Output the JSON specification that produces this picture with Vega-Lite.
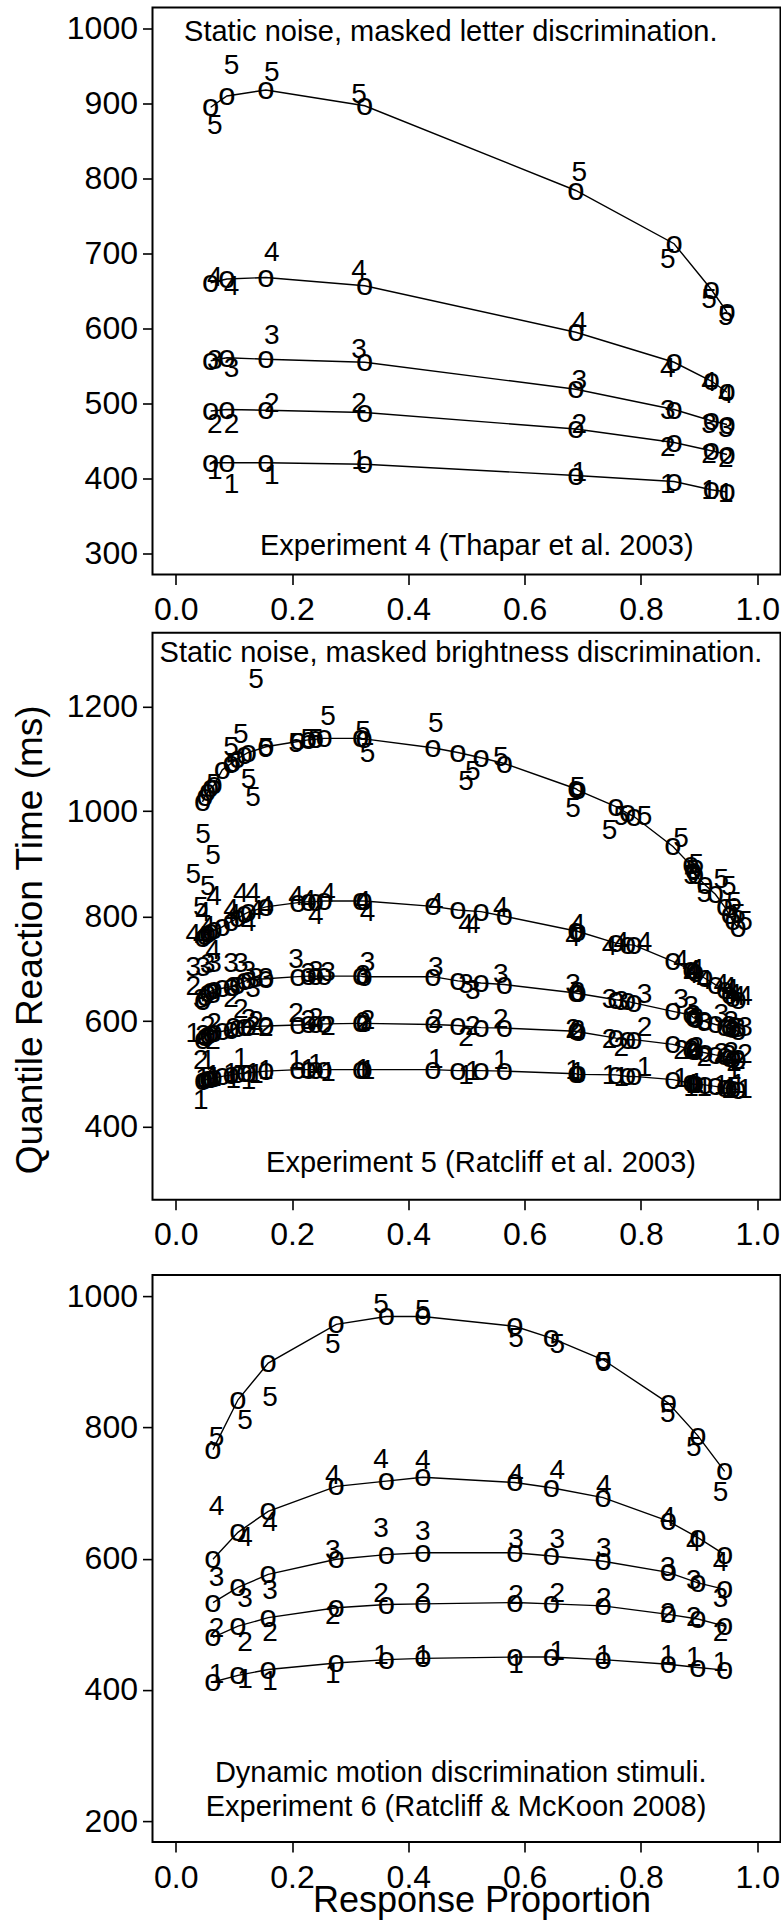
{
  "$schema": "https://vega.github.io/schema/vega-lite/v6.json",
  "padding": {"left": 9.5, "top": 6.5, "right": 0, "bottom": 0},
  "spacing": 5.3,
  "config": {
    "view": {"stroke": "black", "strokeWidth": 2},
    "font": "Liberation Sans",
    "axis": {"domain": false, "grid": false, "tickColor": "black", "tickSize": 10, "tickWidth": 1.6, "labelFont": "Liberation Sans", "labelFontSize": 32, "labelColor": "black", "titleFont": "Liberation Sans", "titleFontSize": 37, "titleFontWeight": "normal", "titleColor": "black", "labelFlush": false, "labelOverlap": false, "labelBound": false},
    "axisX": {"labelPadding": 10},
    "axisY": {"labelPadding": 5},
    "text": {"font": "Liberation Sans", "color": "black"}
  },
  "datasets": {
    "p1pred": [
      {"x": 0.060, "1": 421, "2": 490, "3": 557, "4": 661, "5": 895},
      {"x": 0.088, "1": 421, "2": 492, "3": 561, "4": 666, "5": 910},
      {"x": 0.155, "1": 421, "2": 491, "3": 559, "4": 668, "5": 918},
      {"x": 0.325, "1": 419, "2": 488, "3": 555, "4": 657, "5": 897},
      {"x": 0.688, "1": 404, "2": 466, "3": 519, "4": 595, "5": 784},
      {"x": 0.857, "1": 396, "2": 448, "3": 492, "4": 555, "5": 713},
      {"x": 0.921, "1": 385, "2": 437, "3": 477, "4": 530, "5": 652},
      {"x": 0.948, "1": 382, "2": 432, "3": 472, "4": 515, "5": 622}
    ],
    "p1obs": [
      {"x": 0.067, "1": 410, "2": 472, "3": 557, "4": 668, "5": 870},
      {"x": 0.096, "1": 391, "2": 472, "3": 546, "4": 655, "5": 950},
      {"x": 0.165, "1": 404, "2": 499, "3": 590, "4": 701, "5": 941},
      {"x": 0.315, "1": 423, "2": 499, "3": 572, "4": 677, "5": 912},
      {"x": 0.694, "1": 407, "2": 472, "3": 530, "4": 608, "5": 808},
      {"x": 0.846, "1": 391, "2": 441, "3": 490, "4": 546, "5": 692},
      {"x": 0.917, "1": 383, "2": 432, "3": 472, "4": 528, "5": 638},
      {"x": 0.946, "1": 379, "2": 426, "3": 466, "4": 512, "5": 615}
    ],
    "p2pred": [
      {"x": 0.046, "1": 486, "2": 565, "3": 638, "4": 758, "5": 1018},
      {"x": 0.050, "1": 488, "2": 571, "3": 647, "4": 763, "5": 1028},
      {"x": 0.055, "1": 490, "2": 574, "3": 653, "4": 767, "5": 1036},
      {"x": 0.060, "1": 491, "2": 576, "3": 657, "4": 770, "5": 1044},
      {"x": 0.066, "1": 492, "2": 578, "3": 660, "4": 773, "5": 1050},
      {"x": 0.080, "1": 495, "2": 581, "3": 663, "4": 780, "5": 1079},
      {"x": 0.095, "1": 498, "2": 584, "3": 666, "4": 790, "5": 1091},
      {"x": 0.106, "1": 500, "2": 587, "3": 670, "4": 796, "5": 1100},
      {"x": 0.118, "1": 501, "2": 590, "3": 676, "4": 804, "5": 1108},
      {"x": 0.125, "1": 502, "2": 590, "3": 679, "4": 808, "5": 1112},
      {"x": 0.155, "1": 505, "2": 591, "3": 681, "4": 818, "5": 1123},
      {"x": 0.210, "1": 508, "2": 593, "3": 685, "4": 826, "5": 1133},
      {"x": 0.228, "1": 508, "2": 594, "3": 686, "4": 828, "5": 1136},
      {"x": 0.240, "1": 508, "2": 594, "3": 686, "4": 828, "5": 1137},
      {"x": 0.255, "1": 508, "2": 595, "3": 686, "4": 829, "5": 1139},
      {"x": 0.318, "1": 508, "2": 596, "3": 686, "4": 829, "5": 1139},
      {"x": 0.324, "1": 508, "2": 596, "3": 685, "4": 829, "5": 1138},
      {"x": 0.442, "1": 508, "2": 594, "3": 685, "4": 819, "5": 1121},
      {"x": 0.485, "1": 506, "2": 592, "3": 677, "4": 812, "5": 1112},
      {"x": 0.525, "1": 506, "2": 588, "3": 673, "4": 809, "5": 1102},
      {"x": 0.565, "1": 505, "2": 587, "3": 670, "4": 800, "5": 1091},
      {"x": 0.688, "1": 500, "2": 581, "3": 654, "4": 772, "5": 1043},
      {"x": 0.692, "1": 499, "2": 580, "3": 653, "4": 771, "5": 1040},
      {"x": 0.757, "1": 498, "2": 568, "3": 641, "4": 749, "5": 1009},
      {"x": 0.777, "1": 495, "2": 565, "3": 638, "4": 746, "5": 996},
      {"x": 0.788, "1": 495, "2": 565, "3": 635, "4": 745, "5": 990},
      {"x": 0.855, "1": 489, "2": 556, "3": 619, "4": 714, "5": 933},
      {"x": 0.886, "1": 482, "2": 546, "3": 612, "4": 698, "5": 897},
      {"x": 0.890, "1": 480, "2": 544, "3": 607, "4": 695, "5": 887},
      {"x": 0.894, "1": 480, "2": 543, "3": 605, "4": 692, "5": 878},
      {"x": 0.910, "1": 479, "2": 540, "3": 600, "4": 682, "5": 860},
      {"x": 0.928, "1": 476, "2": 536, "3": 594, "4": 670, "5": 842},
      {"x": 0.944, "1": 473, "2": 533, "3": 590, "4": 660, "5": 818},
      {"x": 0.952, "1": 472, "2": 531, "3": 588, "4": 651, "5": 803},
      {"x": 0.958, "1": 471, "2": 529, "3": 585, "4": 645, "5": 791},
      {"x": 0.967, "1": 470, "2": 527, "3": 581, "4": 641, "5": 778}
    ],
    "p2obs": [
      {"x": 0.030, "1": 575, "2": 666, "3": 701, "4": 764, "5": 879},
      {"x": 0.043, "1": 449, "2": 524, "3": 640, "4": 760, "5": 816},
      {"x": 0.047, "1": 490, "2": 572, "3": 701, "4": 806, "5": 954},
      {"x": 0.055, "1": 524, "2": 590, "3": 708, "4": 780, "5": 855},
      {"x": 0.064, "1": 495, "2": 563, "3": 650, "4": 733, "5": 914},
      {"x": 0.066, "1": 492, "2": 595, "3": 710, "4": 836, "5": 1050},
      {"x": 0.095, "1": 500, "2": 642, "3": 709, "4": 812, "5": 1120},
      {"x": 0.099, "1": 488, "2": 586, "3": 664, "4": 803, "5": 1090},
      {"x": 0.112, "1": 528, "2": 622, "3": 709, "4": 843, "5": 1145},
      {"x": 0.125, "1": 486, "2": 603, "3": 693, "4": 788, "5": 1060},
      {"x": 0.133, "1": 500, "2": 590, "3": 662, "4": 843, "5": 1025},
      {"x": 0.138, "1": 497, "2": 598, "3": 680, "4": 810, "5": 1250},
      {"x": 0.155, "1": 505, "2": 588, "3": 680, "4": 818, "5": 1118},
      {"x": 0.207, "1": 524, "2": 614, "3": 716, "4": 836, "5": 1128},
      {"x": 0.228, "1": 507, "2": 600, "3": 690, "4": 830, "5": 1135},
      {"x": 0.241, "1": 516, "2": 604, "3": 694, "4": 800, "5": 1135},
      {"x": 0.262, "1": 501, "2": 590, "3": 692, "4": 843, "5": 1180},
      {"x": 0.322, "1": 508, "2": 597, "3": 686, "4": 828, "5": 1151},
      {"x": 0.330, "1": 505, "2": 600, "3": 711, "4": 806, "5": 1110},
      {"x": 0.447, "1": 527, "2": 603, "3": 701, "4": 823, "5": 1167},
      {"x": 0.499, "1": 495, "2": 568, "3": 669, "4": 784, "5": 1056},
      {"x": 0.511, "1": 503, "2": 590, "3": 657, "4": 784, "5": 1075},
      {"x": 0.559, "1": 524, "2": 603, "3": 688, "4": 815, "5": 1101},
      {"x": 0.683, "1": 505, "2": 584, "3": 669, "4": 758, "5": 1005},
      {"x": 0.691, "1": 502, "2": 581, "3": 654, "4": 784, "5": 1044},
      {"x": 0.746, "1": 495, "2": 565, "3": 641, "4": 742, "5": 962},
      {"x": 0.766, "1": 492, "2": 549, "3": 636, "4": 749, "5": 990},
      {"x": 0.806, "1": 511, "2": 587, "3": 651, "4": 749, "5": 990},
      {"x": 0.869, "1": 490, "2": 543, "3": 641, "4": 714, "5": 948},
      {"x": 0.886, "1": 473, "2": 543, "3": 628, "4": 689, "5": 876},
      {"x": 0.890, "1": 478, "2": 548, "3": 610, "4": 695, "5": 886},
      {"x": 0.895, "1": 480, "2": 550, "3": 605, "4": 698, "5": 898},
      {"x": 0.909, "1": 473, "2": 530, "3": 596, "4": 676, "5": 842},
      {"x": 0.938, "1": 476, "2": 538, "3": 612, "4": 669, "5": 869},
      {"x": 0.951, "1": 470, "2": 533, "3": 590, "4": 663, "5": 855},
      {"x": 0.955, "1": 472, "2": 540, "3": 598, "4": 660, "5": 812},
      {"x": 0.960, "1": 505, "2": 520, "3": 587, "4": 650, "5": 826},
      {"x": 0.967, "1": 479, "2": 525, "3": 585, "4": 647, "5": 803},
      {"x": 0.979, "1": 470, "2": 535, "3": 587, "4": 647, "5": 790}
    ],
    "p3pred": [
      {"x": 0.064, "1": 412, "2": 480, "3": 533, "4": 599, "5": 766},
      {"x": 0.107, "1": 422, "2": 497, "3": 556, "4": 640, "5": 842},
      {"x": 0.159, "1": 431, "2": 510, "3": 576, "4": 672, "5": 898},
      {"x": 0.276, "1": 441, "2": 525, "3": 599, "4": 710, "5": 957},
      {"x": 0.362, "1": 446, "2": 530, "3": 606, "4": 718, "5": 969},
      {"x": 0.425, "1": 448, "2": 531, "3": 609, "4": 724, "5": 969},
      {"x": 0.583, "1": 450, "2": 533, "3": 609, "4": 716, "5": 954},
      {"x": 0.646, "1": 450, "2": 531, "3": 604, "4": 708, "5": 936},
      {"x": 0.735, "1": 446, "2": 528, "3": 596, "4": 693, "5": 903},
      {"x": 0.847, "1": 439, "2": 515, "3": 579, "4": 657, "5": 837},
      {"x": 0.898, "1": 434, "2": 508, "3": 563, "4": 632, "5": 787},
      {"x": 0.944, "1": 430, "2": 497, "3": 553, "4": 606, "5": 733}
    ],
    "p3obs": [
      {"x": 0.070, "1": 422, "2": 492, "3": 571, "4": 678, "5": 784},
      {"x": 0.119, "1": 415, "2": 472, "3": 538, "4": 632, "5": 809},
      {"x": 0.162, "1": 412, "2": 487, "3": 551, "4": 655, "5": 845},
      {"x": 0.270, "1": 422, "2": 513, "3": 612, "4": 726, "5": 926},
      {"x": 0.353, "1": 451, "2": 546, "3": 645, "4": 751, "5": 987},
      {"x": 0.425, "1": 451, "2": 546, "3": 640, "4": 749, "5": 977},
      {"x": 0.585, "1": 438, "2": 543, "3": 629, "4": 728, "5": 934},
      {"x": 0.656, "1": 457, "2": 546, "3": 629, "4": 733, "5": 926},
      {"x": 0.736, "1": 451, "2": 538, "3": 614, "4": 711, "5": 898},
      {"x": 0.846, "1": 451, "2": 515, "3": 586, "4": 662, "5": 820},
      {"x": 0.891, "1": 448, "2": 510, "3": 566, "4": 624, "5": 769},
      {"x": 0.937, "1": 441, "2": 487, "3": 538, "4": 594, "5": 700}
    ]
  },
  "vconcat": [
    {
      "width": 628, "height": 567,
      "encoding": {
        "x": {"field": "x", "type": "quantitative", "scale": {"domain": [-0.04, 1.04], "nice": false, "zero": false}, "axis": {"values": [0, 0.2, 0.4, 0.6, 0.8, 1], "format": ".1f", "title": null}},
        "y": {"field": "rt", "type": "quantitative", "scale": {"domain": [272, 1028], "nice": false, "zero": false}, "axis": {"values": [300, 400, 500, 600, 700, 800, 900, 1000], "format": "d", "title": null}}
      },
      "layer": [
        {"data": {"name": "p1pred"}, "transform": [{"fold": ["1", "2", "3", "4", "5"], "as": ["q", "rt"]}], "mark": {"type": "line", "color": "black", "strokeWidth": 1.4}, "encoding": {"detail": {"field": "q"}}},
        {"data": {"name": "p1pred"}, "transform": [{"fold": ["1", "2", "3", "4", "5"], "as": ["q", "rt"]}], "mark": {"type": "text", "text": "o", "fontSize": 31, "baseline": "middle", "align": "center"}},
        {"data": {"name": "p1obs"}, "transform": [{"fold": ["1", "2", "3", "4", "5"], "as": ["q", "rt"]}], "mark": {"type": "text", "fontSize": 28, "baseline": "middle", "align": "center"}, "encoding": {"text": {"field": "q"}}},
        {"data": {"values": [
          {"x": 0.473, "rt": 995, "label": "Static noise, masked letter discrimination."},
          {"x": 0.5176, "rt": 310, "label": "Experiment 4 (Thapar et al. 2003)"}
        ]}, "mark": {"type": "text", "fontSize": 29, "baseline": "middle", "align": "center"}, "encoding": {"text": {"field": "label"}}}
      ]
    },
    {
      "width": 628, "height": 567,
      "encoding": {
        "x": {"field": "x", "type": "quantitative", "scale": {"domain": [-0.04, 1.04], "nice": false, "zero": false}, "axis": {"values": [0, 0.2, 0.4, 0.6, 0.8, 1], "format": ".1f", "title": null}},
        "y": {"field": "rt", "type": "quantitative", "scale": {"domain": [260, 1340], "nice": false, "zero": false}, "axis": {"values": [400, 600, 800, 1000, 1200], "format": "d", "title": "Quantile Reaction Time (ms)", "titleX": -103.5, "titleY": 306.5, "titleAngle": -90, "titleBaseline": "bottom", "titleAlign": "center"}}
      },
      "layer": [
        {"data": {"name": "p2pred"}, "transform": [{"fold": ["1", "2", "3", "4", "5"], "as": ["q", "rt"]}], "mark": {"type": "line", "color": "black", "strokeWidth": 1.4}, "encoding": {"detail": {"field": "q"}}},
        {"data": {"name": "p2pred"}, "transform": [{"fold": ["1", "2", "3", "4", "5"], "as": ["q", "rt"]}], "mark": {"type": "text", "text": "o", "fontSize": 31, "baseline": "middle", "align": "center"}},
        {"data": {"name": "p2obs"}, "transform": [{"fold": ["1", "2", "3", "4", "5"], "as": ["q", "rt"]}], "mark": {"type": "text", "fontSize": 28, "baseline": "middle", "align": "center"}, "encoding": {"text": {"field": "q"}}},
        {"data": {"values": [
          {"x": 0.4905, "rt": 1301, "label": "Static noise, masked brightness discrimination."},
          {"x": 0.525, "rt": 330, "label": "Experiment 5 (Ratcliff et al. 2003)"}
        ]}, "mark": {"type": "text", "fontSize": 29, "baseline": "middle", "align": "center"}, "encoding": {"text": {"field": "label"}}},
        {"data": {"values": [{"x": 0.5, "rt": 133}]}, "mark": {"type": "point", "opacity": 0, "size": 1}}
      ]
    },
    {
      "width": 628, "height": 567,
      "encoding": {
        "x": {"field": "x", "type": "quantitative", "scale": {"domain": [-0.04, 1.04], "nice": false, "zero": false}, "axis": {"values": [0, 0.2, 0.4, 0.6, 0.8, 1], "format": ".1f", "title": "Response Proportion", "titleFontSize": 36, "titleX": 329, "titleY": 41, "titleBaseline": "top", "titleAlign": "center"}},
        "y": {"field": "rt", "type": "quantitative", "scale": {"domain": [168, 1032], "nice": false, "zero": false}, "axis": {"values": [200, 400, 600, 800, 1000], "format": "d", "title": null}}
      },
      "layer": [
        {"data": {"name": "p3pred"}, "transform": [{"fold": ["1", "2", "3", "4", "5"], "as": ["q", "rt"]}], "mark": {"type": "line", "color": "black", "strokeWidth": 1.4}, "encoding": {"detail": {"field": "q"}}},
        {"data": {"name": "p3pred"}, "transform": [{"fold": ["1", "2", "3", "4", "5"], "as": ["q", "rt"]}], "mark": {"type": "text", "text": "o", "fontSize": 31, "baseline": "middle", "align": "center"}},
        {"data": {"name": "p3obs"}, "transform": [{"fold": ["1", "2", "3", "4", "5"], "as": ["q", "rt"]}], "mark": {"type": "text", "fontSize": 28, "baseline": "middle", "align": "center"}, "encoding": {"text": {"field": "q"}}},
        {"data": {"values": [
          {"x": 0.490, "rt": 274, "label": "Dynamic motion discrimination stimuli."},
          {"x": 0.482, "rt": 221.5, "label": "Experiment 6 (Ratcliff & McKoon 2008)"}
        ]}, "mark": {"type": "text", "fontSize": 29, "baseline": "middle", "align": "center"}, "encoding": {"text": {"field": "label"}}}
      ]
    }
  ]
}
